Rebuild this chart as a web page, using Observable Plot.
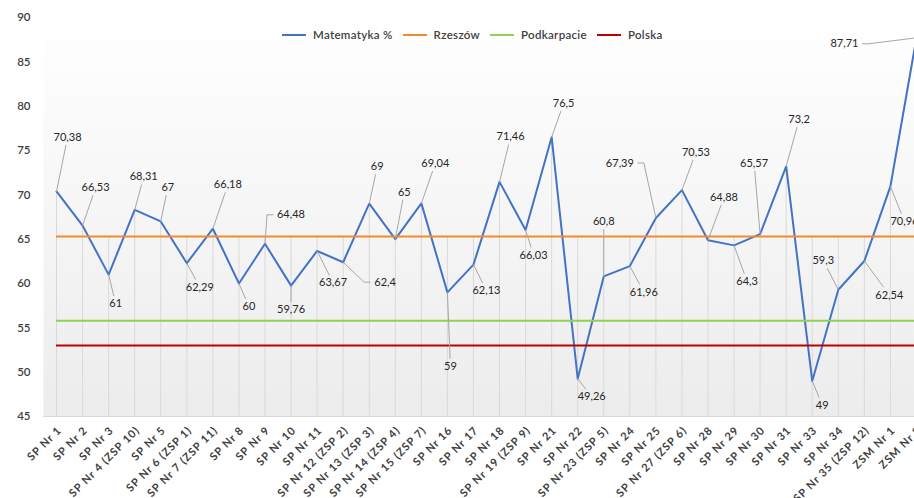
<!DOCTYPE html>
<html>
<head>
<meta charset="utf-8">
<script src="https://cdn.jsdelivr.net/npm/d3@7"></script>
<script src="https://cdn.jsdelivr.net/npm/@observablehq/plot@0.6"></script>
<style>
  html, body { margin: 0; padding: 0; background: #ffffff; }
  #wrap { position: relative; width: 914px; height: 498px; overflow: hidden; font-family: Lato, "Open Sans", sans-serif; }
  #legend { position: absolute; top: 28px; left: 282px; display: flex; align-items: center; font-size: 11.5px; font-weight: 600; color: #404040; letter-spacing: 0.3px; }
  .item { display: flex; align-items: center; margin-right: 10px; }
  .sw { width: 24px; height: 2px; margin-right: 7px; }
</style>
</head>
<body>
<div id="wrap"><div id="legend"></div></div>
<script>
const categories = [
  "SP Nr 1", "SP Nr 2", "SP Nr 3", "SP Nr 4 (ZSP 10)", "SP Nr 5", "SP Nr 6 (ZSP 1)",
  "SP Nr 7 (ZSP 11)", "SP Nr 8", "SP Nr 9", "SP Nr 10", "SP Nr 11", "SP Nr 12 (ZSP 2)",
  "SP Nr 13 (ZSP 3)", "SP Nr 14 (ZSP 4)", "SP Nr 15 (ZSP 7)", "SP Nr 16", "SP Nr 17",
  "SP Nr 18", "SP Nr 19 (ZSP 9)", "SP Nr 21", "SP Nr 22", "SP Nr 23 (ZSP 5)", "SP Nr 24",
  "SP Nr 25", "SP Nr 27 (ZSP 6)", "SP Nr 28", "SP Nr 29", "SP Nr 30", "SP Nr 31",
  "SP Nr 33", "SP Nr 34", "SP Nr 35 (ZSP 12)", "ZSM Nr 1", "ZSM Nr 2"
];
const matematyka = [
  70.38, 66.53, 61, 68.31, 67, 62.29, 66.18, 60, 64.48, 59.76, 63.67, 62.4,
  69, 65, 69.04, 59, 62.13, 71.46, 66.03, 76.5, 49.26, 60.8, 61.96, 67.39,
  70.53, 64.88, 64.3, 65.57, 73.2, 49, 59.3, 62.54, 70.96, 87.71
];
const rzeszow = 65.3;
const podkarpacie = 55.8;
const polska = 53.0;
const yTicks = [45, 50, 55, 60, 65, 70, 75, 80, 85, 90];

const seriesNames = ["Matematyka %", "Rzeszów", "Podkarpacie", "Polska"];
const seriesColors = ["#4472C4", "#F08C2E", "#92D050", "#C00000"];

// data-label placement (pixel offsets of each label from its point)
const labelDx = [11, 13, 7, 9, 7, 13, 15, 10, 26, 0, 16, 42, 8, 9, 14, 3, 13, 11, 8, 12, 14, 0, 14, -36, 14, 16, 13, -6, 13, 10, -15, 25, 14, -72];
const labelDy = [-54, -38, 29, -33, -34, 24, -44, 23, -29, 24, 32, 20, -37, -47, -40, 74, 26, -45, 25, -34, 18, -55, 26, -55, -38, -43, 36, -71, -47, 24, -29, 34, 35, 6];
const sideLeader = [8, 11, 23, 33];

const xDomain = [-0.5, 33.5], xRange = [43, 929];
const yDomain = [45, 90], yRange = [416, 17];
const kx = (xRange[1] - xRange[0]) / (xDomain[1] - xDomain[0]);
const ky = (yRange[0] - yRange[1]) / (yDomain[1] - yDomain[0]);

const fmt = v => String(v).replace(".", ",");
const idx = d3.range(categories.length);

const labels = [];
const leaders = [];
idx.forEach(i => {
  const v = matematyka[i];
  const text = fmt(v);
  const dx = labelDx[i], dy = labelDy[i];
  const cx = i + dx / kx, cy = v - dy / ky;
  labels.push({x: cx, y: cy, text});
  const halfW = text.length * 3.0, halfH = 6;
  if (sideLeader.includes(i)) {
    const s = dx > 0 ? -1 : 1;
    const ex = dx + s * (halfW + 3), elx = dx + s * (halfW + 9);
    leaders.push({id: i, x: i, y: v});
    leaders.push({id: i, x: i + elx / kx, y: cy});
    leaders.push({id: i, x: i + ex / kx, y: cy});
  } else {
    const t = Math.min(dx === 0 ? Infinity : (halfW + 2) / Math.abs(dx), (halfH + 2) / Math.abs(dy));
    const ex = dx - t * dx, ey = dy - t * dy;
    leaders.push({id: i, x: i, y: v});
    leaders.push({id: i, x: i + ex / kx, y: v - ey / ky});
  }
});

const chart = Plot.plot({
  width: 914,
  height: 498,
  marginLeft: 43,
  marginRight: 0,
  marginTop: 17,
  marginBottom: 82,
  style: {color: "#404040", fontFamily: "Lato, 'Open Sans', sans-serif", background: "transparent", overflow: "visible"},
  x: {domain: xDomain, range: xRange, label: null, axis: null},
  y: {domain: yDomain, range: yRange, label: null},
  marks: [
    Plot.frame({fill: "url(#bgGrad)", stroke: "none"}),
    Plot.ruleX(idx, {x: i => i, y1: () => yDomain[0], y2: i => Math.max(matematyka[i], rzeszow), stroke: "#d9d9d9", strokeWidth: 1}),
    Plot.ruleY([yDomain[0]], {stroke: "#d9d9d9", strokeWidth: 1}),
    Plot.line(idx, {x: i => i, y: i => matematyka[i], stroke: seriesColors[0], strokeWidth: 2}),
    Plot.ruleY([rzeszow], {x1: () => 0, x2: () => 33, stroke: seriesColors[1], strokeWidth: 2}),
    Plot.ruleY([podkarpacie], {x1: () => 0, x2: () => 33, stroke: seriesColors[2], strokeWidth: 2}),
    Plot.ruleY([polska], {x1: () => 0, x2: () => 33, stroke: seriesColors[3], strokeWidth: 2}),
    Plot.line(leaders, {x: "x", y: "y", z: "id", stroke: "#a6a6a6", strokeWidth: 1}),
    Plot.text(labels, {x: "x", y: "y", text: "text", fontSize: 11, fill: "#262626"}),
    Plot.axisY({ticks: yTicks, tickSize: 0, tickPadding: 13, fontSize: 11.5, fontWeight: 600, label: null}),
    Plot.text(idx, {x: i => i, y: () => yDomain[0], text: i => categories[i], rotate: -45, textAnchor: "end", lineAnchor: "middle", dx: 3, dy: 12, fontSize: 11, fontWeight: "bold", fill: "#404040"})
  ]
});

// wider letter spacing for the category labels (last text mark)
const textGroups = chart.querySelectorAll("g[aria-label='text']");
if (textGroups.length) textGroups[textGroups.length - 1].setAttribute("letter-spacing", "0.9");

const ns = "http://www.w3.org/2000/svg";
const defs = document.createElementNS(ns, "defs");
const grad = document.createElementNS(ns, "linearGradient");
grad.setAttribute("id", "bgGrad");
grad.setAttribute("x1", "0"); grad.setAttribute("y1", "0");
grad.setAttribute("x2", "0"); grad.setAttribute("y2", "1");
[["0%", "#ffffff"], ["100%", "#ececec"]].forEach(([o, c]) => {
  const s = document.createElementNS(ns, "stop");
  s.setAttribute("offset", o); s.setAttribute("stop-color", c);
  grad.appendChild(s);
});
defs.appendChild(grad);
chart.insertBefore(defs, chart.firstChild);

document.getElementById("wrap").insertBefore(chart, document.getElementById("legend"));

const legend = document.getElementById("legend");
seriesNames.forEach((n, k) => {
  const it = document.createElement("div");
  it.className = "item";
  const sw = document.createElement("div");
  sw.className = "sw";
  sw.style.background = seriesColors[k];
  const tx = document.createElement("span");
  tx.textContent = n;
  it.appendChild(sw); it.appendChild(tx);
  legend.appendChild(it);
});
</script>
</body>
</html>
